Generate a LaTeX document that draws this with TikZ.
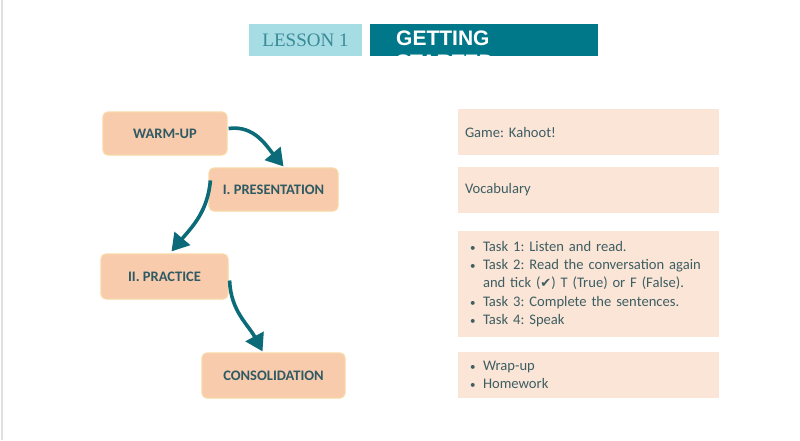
\documentclass[tikz,border=0pt]{standalone}
\usepackage{fontspec}
\setmainfont{Carlito}
\newfontfamily\titlefont{Liberation Sans}
\newfontfamily\lessonfont{Liberation Serif}
\newfontfamily\symfont{DejaVu Sans}
\usetikzlibrary{arrows.meta}
\definecolor{peach}{HTML}{F8CBAD}
\definecolor{peachline}{HTML}{F9D8A6}
\definecolor{pale}{HTML}{FBE5D6}
\definecolor{teal}{HTML}{00788A}
\definecolor{arrowteal}{HTML}{0C6B78}
\definecolor{lessonfill}{HTML}{A6DCE3}
\definecolor{lessontext}{HTML}{3A8A97}
\definecolor{labeltext}{HTML}{2F5A63}
\definecolor{bodytext}{HTML}{3D5E63}
\tikzset{
  stagebox/.style={draw=peachline, line width=1.2pt, fill=peach, rounded corners=5pt,
    font=\fontsize{14.5}{16}\selectfont\bfseries, text=labeltext, inner sep=0pt},
  infobox/.style={fill=pale, text=bodytext, minimum width=261pt, minimum height=46pt,
    text width=247pt, inner xsep=7pt, inner ysep=0pt, align=left,
    font=\fontsize{14.6}{18.2}\selectfont},
  arr/.style={draw=arrowteal, line width=3.6pt,
    -{Triangle[width=20pt,length=17pt]}},
}
\frenchspacing
\newcommand{\bul}{\hspace*{5pt}\makebox[13pt][l]{\fontsize{11}{18}\selectfont\textbullet}}
\newcommand{\ind}{\hspace*{18pt}}
\begin{document}
\begin{tikzpicture}[x=1pt,y=1pt]
\useasboundingbox (0,0) rectangle (800,-440);
\fill[white] (0,0) rectangle (800,-440);
\draw[draw=black!12, line width=1.5pt] (2,0) -- (2,-440);
% header
\node[fill=lessonfill, minimum width=113pt, minimum height=32pt, inner sep=0pt,
  text=lessontext, font=\lessonfont\fontsize{19}{21}\selectfont] (lesson) at (305.5,-40) {LESSON 1};
\node[fill=teal, minimum width=228pt, minimum height=32pt, inner sep=0pt] (title) at (484,-40) {};
\begin{scope}
\clip (370,-24) rectangle (598,-56);
\node[anchor=north west, text=white, font=\titlefont\bfseries\fontsize{21}{24}\selectfont,
  align=left, inner sep=0pt] (titletext) at (396,-30.5) {GETTING\\STARTED};
\end{scope}
% stage boxes
\node[stagebox, minimum width=124pt, minimum height=43pt] (warm) at (165,-133.5) {WARM-UP};
\node[stagebox, minimum width=129pt, minimum height=43pt] (pres) at (273.5,-189.5) {I. PRESENTATION};
\node[stagebox, minimum width=127pt, minimum height=45pt] (prac) at (164.5,-276.5) {II. PRACTICE};
\node[stagebox, minimum width=143pt, minimum height=45pt] (cons) at (273.5,-375.5) {CONSOLIDATION};
% arrows
\draw[arr] ([xshift=1pt,yshift=5pt]warm.east) to[out=8,in=130] ([xshift=10pt,yshift=1pt]pres.north);
\draw[arr] ([xshift=2pt,yshift=-13pt]pres.north west) to[out=-95,in=50] ([xshift=7pt,yshift=2pt]prac.north);
\draw[arr] ([xshift=1pt,yshift=-4pt]prac.east) to[out=-88,in=118] ([xshift=-11pt,yshift=1pt]cons.north);
% info boxes
\node[infobox] (info1) at (588.5,-132) {Game: Kahoot!};
\node[infobox] (info2) at (588.5,-190) {Vocabulary};
\node[infobox, minimum height=106pt] (info3) at (588.5,-284) {%
\bul Task 1: Listen and read.\\
\bul Task 2: Read the conversation again\\
\ind and tick ({\symfont\fontsize{13}{18}\selectfont ✔}) T (True) or F (False).\\
\bul Task 3: Complete the sentences.\\
\bul Task 4: Speak};
\node[infobox] (info4) at (588.5,-375) {%
\bul Wrap-up\\
\bul Homework};
\end{tikzpicture}
\end{document}
